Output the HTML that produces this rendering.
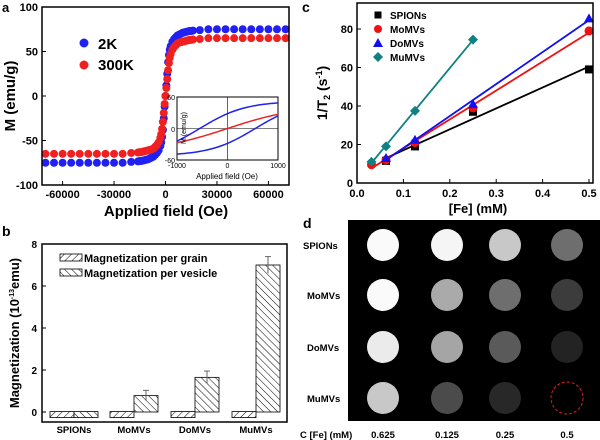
<!DOCTYPE html>
<html><head><meta charset="utf-8"><style>
body{margin:0;background:#fff;}
svg{display:block;font-family:"Liberation Sans",Arial,sans-serif;font-weight:bold;}
</style></head><body>
<svg id="fig" width="600" height="440" viewBox="0 0 600 440" xmlns="http://www.w3.org/2000/svg">
<defs>
<pattern id="hg" width="5" height="5" patternUnits="userSpaceOnUse" patternTransform="rotate(45)"><rect width="5" height="5" fill="#fff"/><line x1="0" y1="0" x2="0" y2="5" stroke="#000" stroke-width="1"/></pattern>
<pattern id="hv" width="5" height="5" patternUnits="userSpaceOnUse" patternTransform="rotate(-45)"><rect width="5" height="5" fill="#fff"/><line x1="0" y1="0" x2="0" y2="5" stroke="#000" stroke-width="1"/></pattern>
</defs>
<g id="pa"></g>
<g id="pb"></g>
<g id="pc"></g>
<g id="pd"></g>
</svg>
<script>
// ---- Panel a data ----
const aFields=[-70000,-65000,-60000,-55000,-50000,-45000,-40000,-35000,-30000,-25000,-20000,-16000,-15000,-14000,-13000,-12000,-11000,-10000,-9000,-8000,-7000,-6000,-5000,-4000,-3000,-2500,-2000,-1500,-1000,-500,0,500,1000,1500,2000,2500,3000,4000,5000,6000,7000,8000,9000,10000,11000,12000,13000,14000,15000,16000,20000,25000,30000,35000,40000,45000,50000,55000,60000,65000,70000];
const a2K=[-75,-75,-75,-75,-75,-75,-75,-75,-75,-75,-74,-73.5,-73,-73,-72.5,-72,-71.5,-71,-70,-69,-68,-66,-64,-61,-56,-52,-46,-38,-25,-12,0,12,25,38,46,52,56,61,64,66,68,69,70,71,71.5,72,72.5,73,73,73.5,74,75,75,75,75,75,75,75,75,75,75];
const a300K=[-65,-65,-65,-65,-65,-65,-65,-65,-65,-65,-64,-63.5,-63,-63,-62.5,-62,-61.5,-61,-60.5,-60,-59,-57,-55,-52,-47,-43,-37,-29,-19,-9,0,9,19,29,37,43,47,52,55,57,59,60,60.5,61,61.5,62,62.5,63,63,63.5,64,65,65,65,65,65,65,65,65,65,65];
const aYTicks=[100,50,0,-50,-100];
const aXTicks=[-60000,-30000,0,30000,60000];
// ---- Panel b data ----
const bCats=['SPIONs','MoMVs','DoMVs','MuMVs'];
const bGrain=[0.02,0.02,0.02,0.02];
const bVesicle=[0.02,0.78,1.65,7.0];
const bErr=[0,0.25,0.3,0.4];
const bYTicks=[0,2,4,6,8];
// ---- Panel c data ----
const cFe=[0.03125,0.0625,0.125,0.25,0.5];
const cSPIONs=[null,11.5,19,37,59];
const cMoMVs=[9.5,12,21,39,79];
const cDoMVs=[null,13,22.5,41,85.5];
const cMuMVs=[11,19,37.5,74.5,null];
const cYTicks=[0,20,40,60,80];
const cXTicks=[0,0.1,0.2,0.3,0.4,0.5];
// ---- Panel d data ----
const dRows=['SPIONs','MoMVs','DoMVs','MuMVs'];
const dConc=['0.625','0.125','0.25','0.5'];
const dBright=[[250,245,200,110],[250,170,110,60],[235,165,90,35],[200,75,40,0]];

const NS='http://www.w3.org/2000/svg';
function mk(p,t,at,txt){const e=document.createElementNS(NS,t);for(const k in at)e.setAttribute(k,at[k]);if(txt!==undefined)e.textContent=txt;p.appendChild(e);return e;}

// ===== Panel a =====
(function(){
const g=document.getElementById('pa');
const X=v=>165.5+v*247/144000, Y=v=>96-v*0.89;
let e=mk(g,'text',{x:2,y:12,'font-size':13},'a');


for(let i=0;i<aFields.length;i++){
 e=mk(g,'circle',{cx:X(aFields[i]),cy:Y(a2K[i]),r:4,fill:'#2020f0'});
 
 
}
for(let i=0;i<aFields.length;i++){
 e=mk(g,'circle',{cx:X(aFields[i]),cy:Y(a300K[i]),r:4,fill:'#f02020'});
 
 
}
e=mk(g,'rect',{x:42,y:7,width:247,height:178,fill:'none',stroke:'#000','stroke-width':1.5});


aYTicks.forEach(v=>{mk(g,'line',{x1:42,x2:46,y1:Y(v),y2:Y(v),stroke:'#000'});
 e=mk(g,'text',{x:38,y:Y(v)+4,'font-size':11,'text-anchor':'end'},v);
 
 });
aXTicks.forEach(v=>{mk(g,'line',{x1:X(v),x2:X(v),y1:185,y2:181,stroke:'#000'});
 e=mk(g,'text',{x:X(v),y:198,'font-size':11,'text-anchor':'middle'},v);
 
 });
e=mk(g,'text',{x:166,y:216,'font-size':15,'text-anchor':'middle'},'Applied field (Oe)');


e=mk(g,'text',{x:0,y:0,'font-size':15,'text-anchor':'middle',transform:'translate(15,96) rotate(-90)'},'M (emu/g)');


mk(g,'circle',{cx:84,cy:43,r:4.5,fill:'#2020f0'});
e=mk(g,'text',{x:98,y:49,'font-size':15},'2K');


mk(g,'circle',{cx:84,cy:65,r:4.5,fill:'#f02020'});
e=mk(g,'text',{x:98,y:70,'font-size':15},'300K');


// inset
const ix=v=>227.5+v*0.0505, iy=v=>128.5-v*0.525;
e=mk(g,'rect',{x:177,y:97,width:101,height:63,fill:'#fff',stroke:'#000'});


mk(g,'line',{x1:177,x2:278,y1:iy(0),y2:iy(0),stroke:'#000','stroke-width':0.6});
mk(g,'line',{x1:ix(0),x2:ix(0),y1:97,y2:160,stroke:'#000','stroke-width':0.6});
let up='',lo='',rd='';
for(let h=-1000;h<=1000;h+=50){const t=Math.tanh(h/1400);up+=(up?'L':'M')+ix(h)+','+iy(53*Math.tanh((h+550)/900)*0.98);lo+=(lo?'L':'M')+ix(h)+','+iy(53*Math.tanh((h-550)/900)*0.98);rd+=(rd?'L':'M')+ix(h)+','+iy(44*t);}
e=mk(g,'path',{d:up,fill:'none',stroke:'#2020f0','stroke-width':1.5});


e=mk(g,'path',{d:lo,fill:'none',stroke:'#2020f0','stroke-width':1.5});


e=mk(g,'path',{d:rd,fill:'none',stroke:'#f02020','stroke-width':1.5});


[['60',100],['0',132],['-60',163]].forEach(a=>mk(g,'text',{x:175,y:a[1],'font-size':7,'font-weight':'normal','text-anchor':'end'},a[0]));
[['-1000',177],['0',227.5],['1000',278]].forEach(a=>mk(g,'text',{x:a[1],y:168,'font-size':7,'font-weight':'normal','text-anchor':'middle'},a[0]));
mk(g,'text',{x:0,y:0,'font-size':7,'font-weight':'normal','text-anchor':'middle',transform:'translate(186,128) rotate(-90)'},'M (emu/g)');
mk(g,'text',{x:227,y:179,'font-size':8,'font-weight':'normal','text-anchor':'middle'},'Applied field (Oe)');
})();

// ===== Panel b =====
(function(){
const g=document.getElementById('pb');
const Y=v=>412-v*21, cx=[74,134,195,256];
let e=mk(g,'text',{x:2,y:236,'font-size':14},'b');


bCats.forEach((c,i)=>{
 const hg=Math.max(Y(0)-Y(bGrain[i]),0);
 e=mk(g,'rect',{x:cx[i]-24,y:Y(bGrain[i]),width:24,height:Math.max(hg,6),fill:'url(#hg)',stroke:'#000','stroke-width':0.8});
 
 
 const hv=Math.max(Y(0)-Y(bVesicle[i]),0);
 e=mk(g,'rect',{x:cx[i],y:Y(bVesicle[i]),width:24,height:Math.max(hv,6),fill:'url(#hv)',stroke:'#000','stroke-width':0.8});
 
 
 if(bErr[i]>0){const x=cx[i]+12;mk(g,'line',{x1:x,x2:x,y1:Y(bVesicle[i]+bErr[i]),y2:Y(bVesicle[i]-bErr[i]),stroke:'#666'});
 mk(g,'line',{x1:x-3,x2:x+3,y1:Y(bVesicle[i]+bErr[i]),y2:Y(bVesicle[i]+bErr[i]),stroke:'#666'});}
 e=mk(g,'text',{x:cx[i],y:433,'font-size':9.5,'text-anchor':'middle'},c);
 
 
});
e=mk(g,'rect',{x:42,y:244,width:245,height:178,fill:'none',stroke:'#000','stroke-width':1.5});


bYTicks.forEach(v=>{mk(g,'line',{x1:42,x2:46,y1:Y(v),y2:Y(v),stroke:'#000'});
 e=mk(g,'text',{x:37,y:Y(v)+4,'font-size':10,'text-anchor':'end'},v);
 
 });
e=mk(g,'text',{x:0,y:0,'font-size':13,'text-anchor':'middle',transform:'translate(19,333) rotate(-90)'});
e.innerHTML='Magnetization (10<tspan font-size="7" dy="-5">-13</tspan><tspan dy="5">emu)</tspan>';


e=mk(g,'rect',{x:60,y:254,width:22,height:7,fill:'url(#hg)',stroke:'#000','stroke-width':0.8});
e=mk(g,'text',{x:84,y:262,'font-size':11},'Magnetization per grain');


e=mk(g,'rect',{x:60,y:269,width:22,height:7,fill:'url(#hv)',stroke:'#000','stroke-width':0.8});
e=mk(g,'text',{x:84,y:277,'font-size':11},'Magnetization per vesicle');


})();

// ===== Panel c =====
(function(){
const g=document.getElementById('pc');
const X=v=>357+v*464, Y=v=>183-v*1.925;
let e=mk(g,'text',{x:302,y:12,'font-size':14},'c');


const series=[[cSPIONs,'#000','square','spions'],[cMoMVs,'#f01010','circle','momvs'],[cDoMVs,'#1010f0','triangle','domvs'],[cMuMVs,'#108080','diamond','mumvs']];
series.forEach(s=>{
 const xs=[],ys=[];cFe.forEach((x,i)=>{if(s[0][i]!=null){xs.push(x);ys.push(s[0][i]);}});
 const n=xs.length,mx=xs.reduce((a,b)=>a+b)/n,my=ys.reduce((a,b)=>a+b)/n;
 let sxy=0,sxx=0;for(let i=0;i<n;i++){sxy+=(xs[i]-mx)*(ys[i]-my);sxx+=(xs[i]-mx)**2;}
 const k=sxy/sxx,b=my-k*mx;
 e=mk(g,'line',{x1:X(xs[0]),y1:Y(k*xs[0]+b),x2:X(xs[n-1]),y2:Y(k*xs[n-1]+b),stroke:s[1],'stroke-width':1.8});
 
 
 for(let i=0;i<n;i++){const px=X(xs[i]),py=Y(ys[i]);let m;
  if(s[2]=='square')m=mk(g,'rect',{x:px-4,y:py-4,width:8,height:8,fill:s[1]});
  else if(s[2]=='circle')m=mk(g,'circle',{cx:px,cy:py,r:4.5,fill:s[1]});
  else if(s[2]=='triangle')m=mk(g,'path',{d:`M${px},${py-5}L${px+5},${py+4}L${px-5},${py+4}Z`,fill:s[1]});
  else m=mk(g,'path',{d:`M${px},${py-5}L${px+5},${py}L${px},${py+5}L${px-5},${py}Z`,fill:s[1]});
  
  }
});
e=mk(g,'rect',{x:357,y:3,width:236,height:180,fill:'none',stroke:'#000','stroke-width':1.5});


cYTicks.forEach(v=>{mk(g,'line',{x1:357,x2:361,y1:Y(v),y2:Y(v),stroke:'#000'});
 e=mk(g,'text',{x:353,y:Y(v)+4,'font-size':11,'text-anchor':'end'},v);
 
 });
cXTicks.forEach(v=>{mk(g,'line',{x1:X(v),x2:X(v),y1:183,y2:179,stroke:'#000'});
 e=mk(g,'text',{x:X(v),y:197,'font-size':11,'text-anchor':'middle'},v.toFixed(1));
 
 });
e=mk(g,'text',{x:478,y:213,'font-size':13,'text-anchor':'middle'},'[Fe] (mM)');


e=mk(g,'text',{x:0,y:0,'font-size':14,'text-anchor':'middle',transform:'translate(327,93) rotate(-90)'});
e.innerHTML='1/T<tspan font-size="9" dy="3">2</tspan><tspan dy="-3"> (s</tspan><tspan font-size="9" dy="-5">-1</tspan><tspan dy="5">)</tspan>';


const ln=['SPIONs','MoMVs','DoMVs','MuMVs'];
series.forEach((s,i)=>{const px=378,py=15+i*14;let m;
 if(s[2]=='square')m=mk(g,'rect',{x:px-3.5,y:py-3.5,width:7,height:7,fill:s[1]});
 else if(s[2]=='circle')m=mk(g,'circle',{cx:px,cy:py,r:4,fill:s[1]});
 else if(s[2]=='triangle')m=mk(g,'path',{d:`M${px},${py-5}L${px+5},${py+4}L${px-5},${py+4}Z`,fill:s[1]});
 else m=mk(g,'path',{d:`M${px},${py-5}L${px+5},${py}L${px},${py+5}L${px-5},${py}Z`,fill:s[1]});
 e=mk(g,'text',{x:390,y:py+4,'font-size':10},ln[i]);
 
 });
})();

// ===== Panel d =====
(function(){
const g=document.getElementById('pd');
const colX=[383,447,505,567],rowY=[245,295,347,398];
let e=mk(g,'text',{x:303,y:228,'font-size':14},'d');


e=mk(g,'rect',{x:348,y:220,width:252,height:201,fill:'#000'});


dRows.forEach((r,i)=>{
 e=mk(g,'text',{x:i==0?303:307,y:rowY[i]+4,'font-size':9.5},r);
 
 
 dConc.forEach((c,j)=>{const v=dBright[i][j];
  e=mk(g,'circle',{cx:colX[j],cy:rowY[i],r:16,fill:`rgb(${v},${v},${v})`});
  if(v===0)e.setAttribute('stroke','#e02020'),e.setAttribute('stroke-dasharray','3,2'),e.setAttribute('stroke-width','1');
  
  });
});
e=mk(g,'text',{x:300,y:438,'font-size':9.5},'C [Fe] (mM)');


dConc.forEach((c,j)=>{e=mk(g,'text',{x:colX[j],y:438,'font-size':9.5,'text-anchor':'middle'},c);
 
 });
})();
</script>
</body></html>
